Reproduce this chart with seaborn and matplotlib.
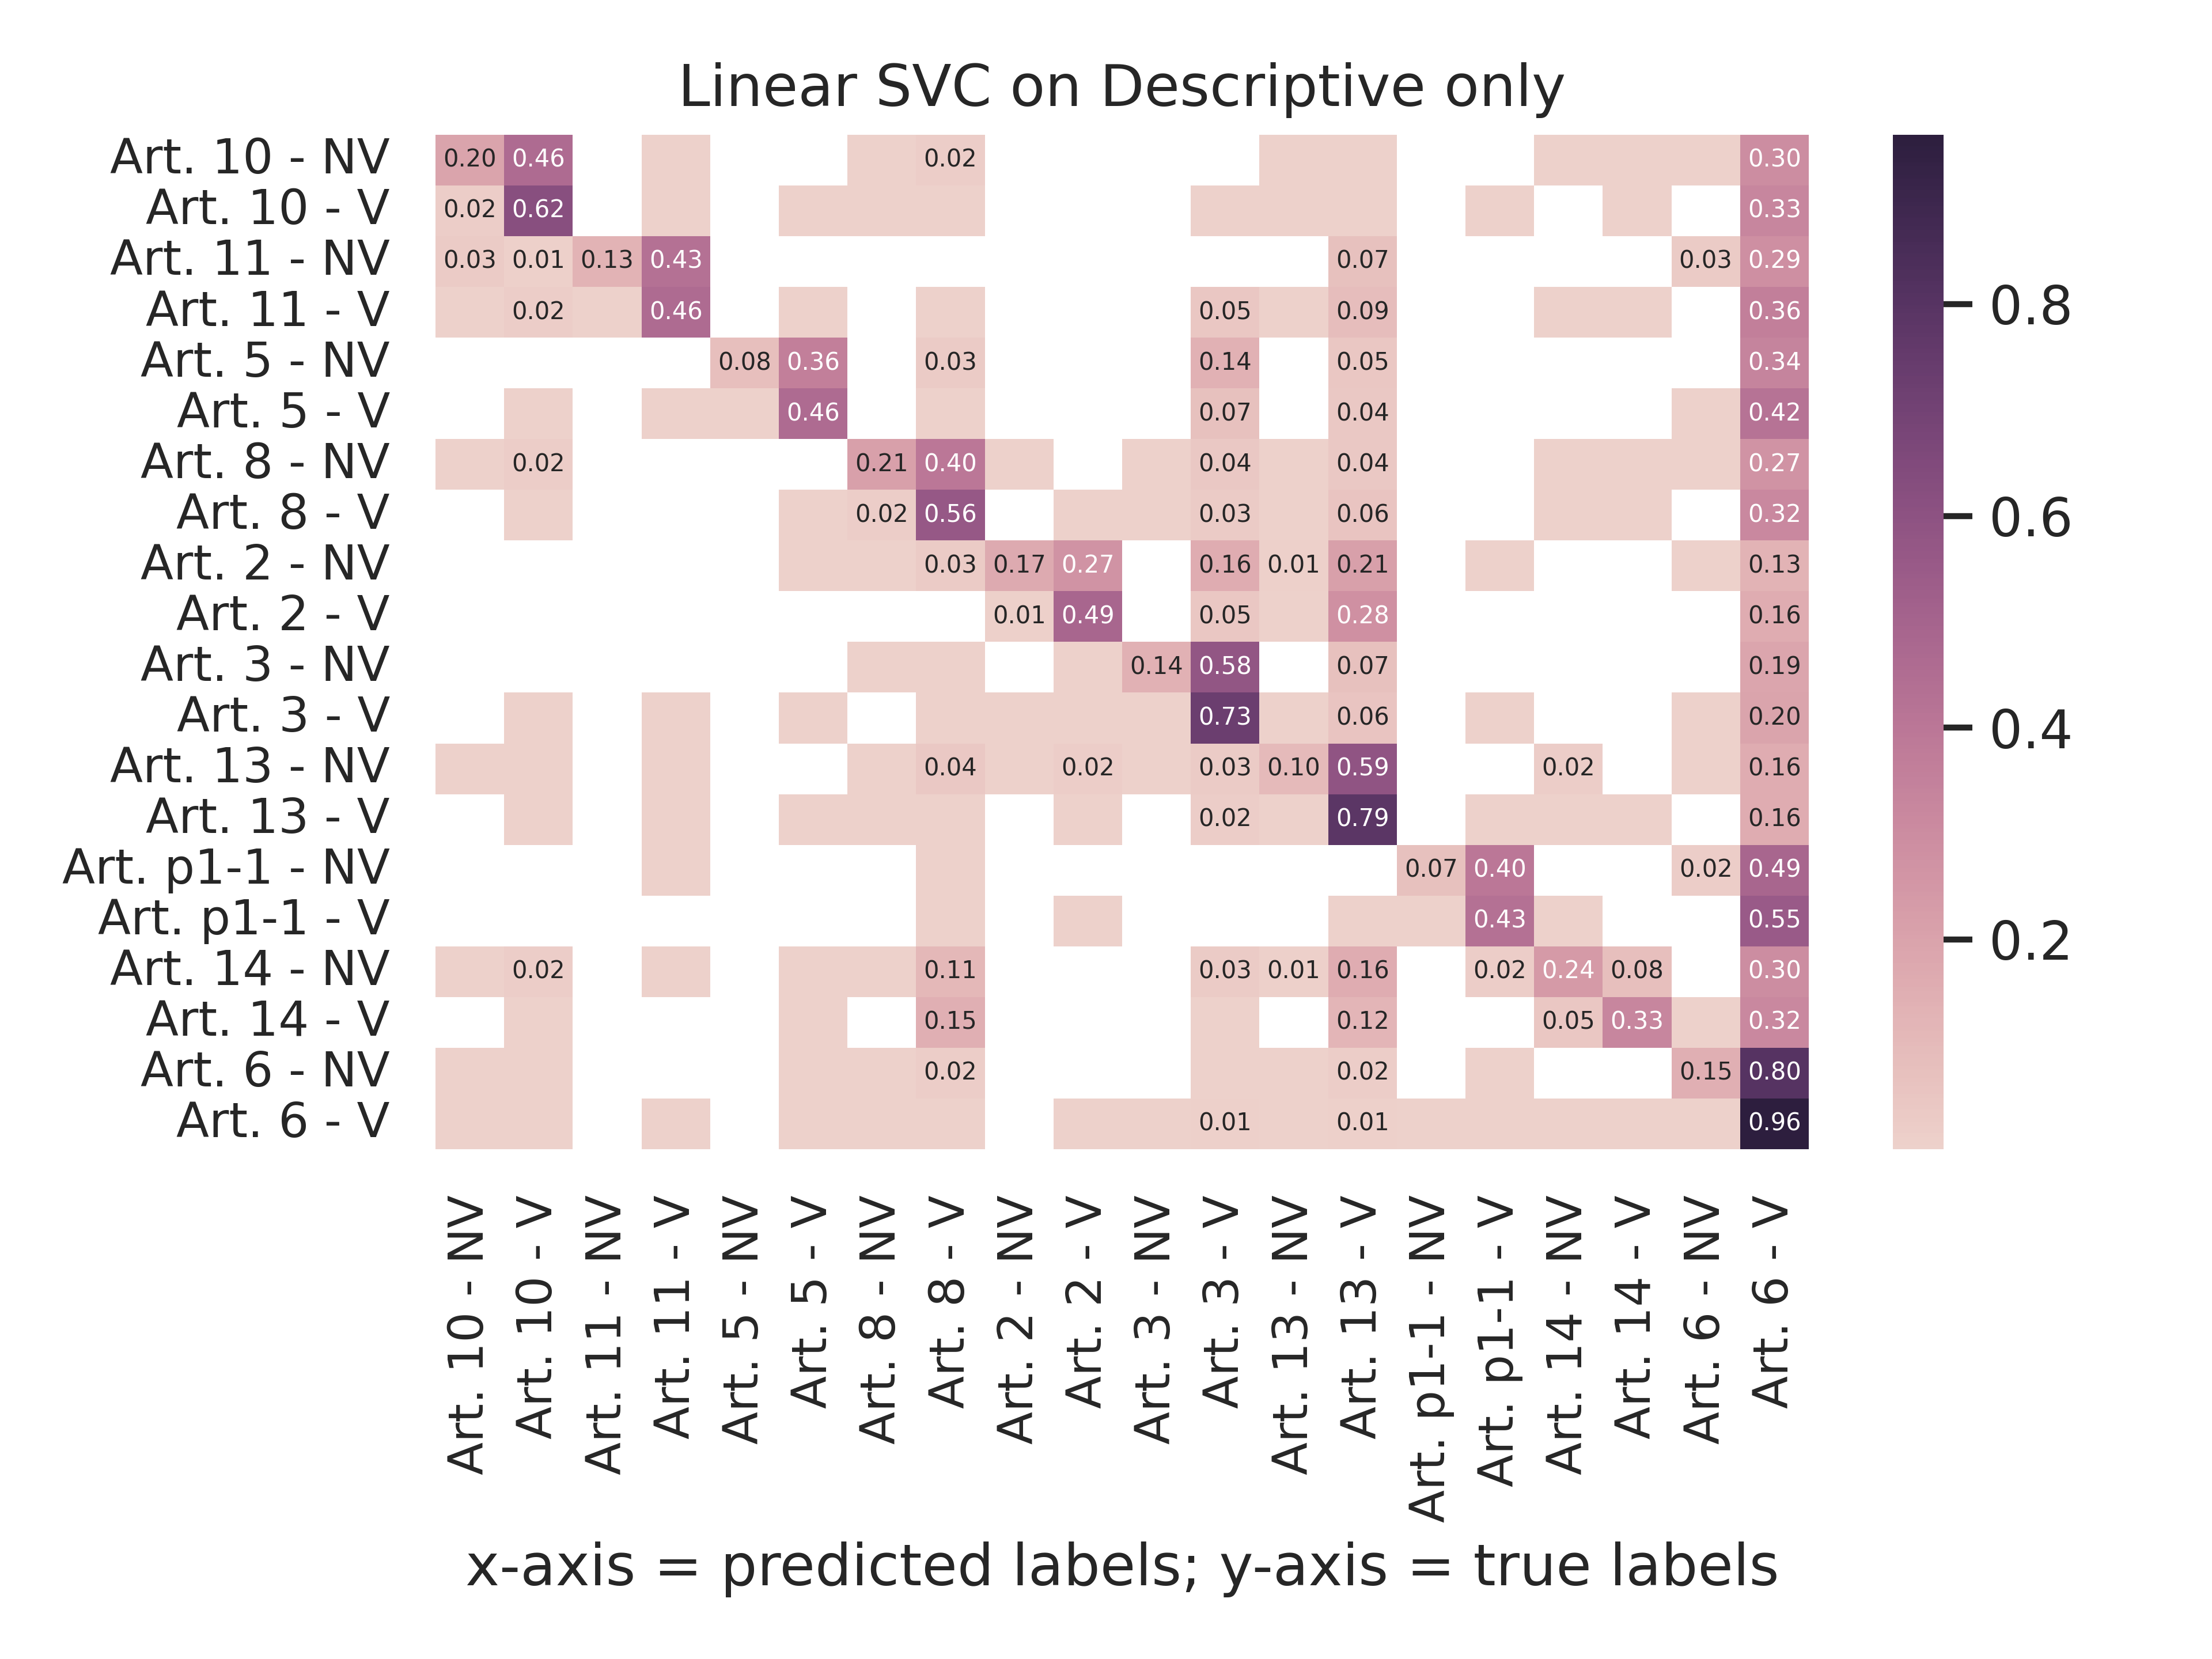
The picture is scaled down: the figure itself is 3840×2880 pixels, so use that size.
"""Confusion matrix heatmap: Linear SVC on Descriptive only."""

import matplotlib

matplotlib.use("Agg")
import matplotlib.pyplot as plt
import numpy as np
import pandas as pd
import seaborn as sns

sns.set_theme(style="white", context="notebook")

labels = [
    "Art. 10 - NV", "Art. 10 - V", "Art. 11 - NV", "Art. 11 - V",
    "Art. 5 - NV", "Art. 5 - V", "Art. 8 - NV", "Art. 8 - V",
    "Art. 2 - NV", "Art. 2 - V", "Art. 3 - NV", "Art. 3 - V",
    "Art. 13 - NV", "Art. 13 - V", "Art. p1-1 - NV", "Art. p1-1 - V",
    "Art. 14 - NV", "Art. 14 - V", "Art. 6 - NV", "Art. 6 - V",
]

s = 0.002  # tiny non-zero rate, coloured but shown without a number

# one row per true label, columns follow `labels` (predicted)
art10_nv = [.20, .46, 0, s, 0, 0, s, .02, 0, 0, 0, 0, s, s, 0, 0, s, s, s, .30]
art10_v = [.02, .62, 0, s, 0, s, s, s, 0, 0, 0, s, s, s, 0, s, 0, s, 0, .33]
art11_nv = [.03, .01, .13, .43, 0, 0, 0, 0, 0, 0, 0, 0, 0, .07, 0, 0, 0, 0, .03, .29]
art11_v = [s, .02, s, .46, 0, s, 0, s, 0, 0, 0, .05, s, .09, 0, 0, s, s, 0, .36]
art5_nv = [0, 0, 0, 0, .08, .36, 0, .03, 0, 0, 0, .14, 0, .05, 0, 0, 0, 0, 0, .34]
art5_v = [0, s, 0, s, s, .46, 0, s, 0, 0, 0, .07, 0, .04, 0, 0, 0, 0, s, .42]
art8_nv = [s, .02, 0, 0, 0, 0, .21, .40, s, 0, s, .04, s, .04, 0, 0, s, s, s, .27]
art8_v = [0, s, 0, 0, 0, s, .02, .56, 0, s, s, .03, s, .06, 0, 0, s, s, 0, .32]
art2_nv = [0, 0, 0, 0, 0, s, s, .03, .17, .27, 0, .16, .01, .21, 0, s, 0, 0, s, .13]
art2_v = [0, 0, 0, 0, 0, 0, 0, 0, .01, .49, 0, .05, s, .28, 0, 0, 0, 0, 0, .16]
art3_nv = [0, 0, 0, 0, 0, 0, s, s, 0, s, .14, .58, 0, .07, 0, 0, 0, 0, 0, .19]
art3_v = [0, s, 0, s, 0, s, 0, s, s, s, s, .73, s, .06, 0, s, 0, 0, s, .20]
art13_nv = [s, s, 0, s, 0, 0, s, .04, s, .02, s, .03, .10, .59, 0, 0, .02, 0, s, .16]
art13_v = [0, s, 0, s, 0, s, s, s, 0, s, 0, .02, s, .79, 0, s, s, s, 0, .16]
artp1_nv = [0, 0, 0, s, 0, 0, 0, s, 0, 0, 0, 0, 0, 0, .07, .40, 0, 0, .02, .49]
artp1_v = [0, 0, 0, 0, 0, 0, 0, s, 0, s, 0, 0, 0, s, s, .43, s, 0, 0, .55]
art14_nv = [s, .02, 0, s, 0, s, s, .11, 0, 0, 0, .03, .01, .16, 0, .02, .24, .08, 0, .30]
art14_v = [0, s, 0, 0, 0, s, 0, .15, 0, 0, 0, s, 0, .12, 0, 0, .05, .33, s, .32]
art6_nv = [s, s, 0, 0, 0, s, s, .02, 0, 0, 0, s, s, .02, 0, s, 0, 0, .15, .80]
art6_v = [s, s, 0, s, 0, s, s, s, 0, s, s, .01, s, .01, s, s, s, s, s, .96]

rows = [
    art10_nv, art10_v, art11_nv, art11_v, art5_nv, art5_v, art8_nv, art8_v,
    art2_nv, art2_v, art3_nv, art3_v, art13_nv, art13_v, artp1_nv, artp1_v,
    art14_nv, art14_v, art6_nv, art6_v,
]

cm = pd.DataFrame(rows, index=labels, columns=labels)
annot = cm.map(lambda v: f"{v:.2f}" if v >= 0.005 else "")

fig = plt.figure(figsize=(6.4, 4.8), dpi=600)
ax = fig.add_axes([0.1969, 0.3073, 0.6208, 0.6115])
cax = fig.add_axes([0.8557, 0.3073, 0.0229, 0.6115])

sns.heatmap(
    cm, mask=cm == 0, annot=annot, fmt="", ax=ax, cbar_ax=cax,
    cmap=sns.cubehelix_palette(as_cmap=True), annot_kws={"size": 5},
)
ax.set_xticks(np.arange(len(labels)) + 0.5)
ax.set_xticklabels(labels, rotation=90, fontsize=10)
ax.set_yticks(np.arange(len(labels)) + 0.5)
ax.set_yticklabels(labels, rotation=0, fontsize=10)
ax.set_title("Linear SVC on Descriptive only")
ax.set_xlabel("x-axis = predicted labels; y-axis = true labels")

fig.savefig("out.png", dpi=600)
